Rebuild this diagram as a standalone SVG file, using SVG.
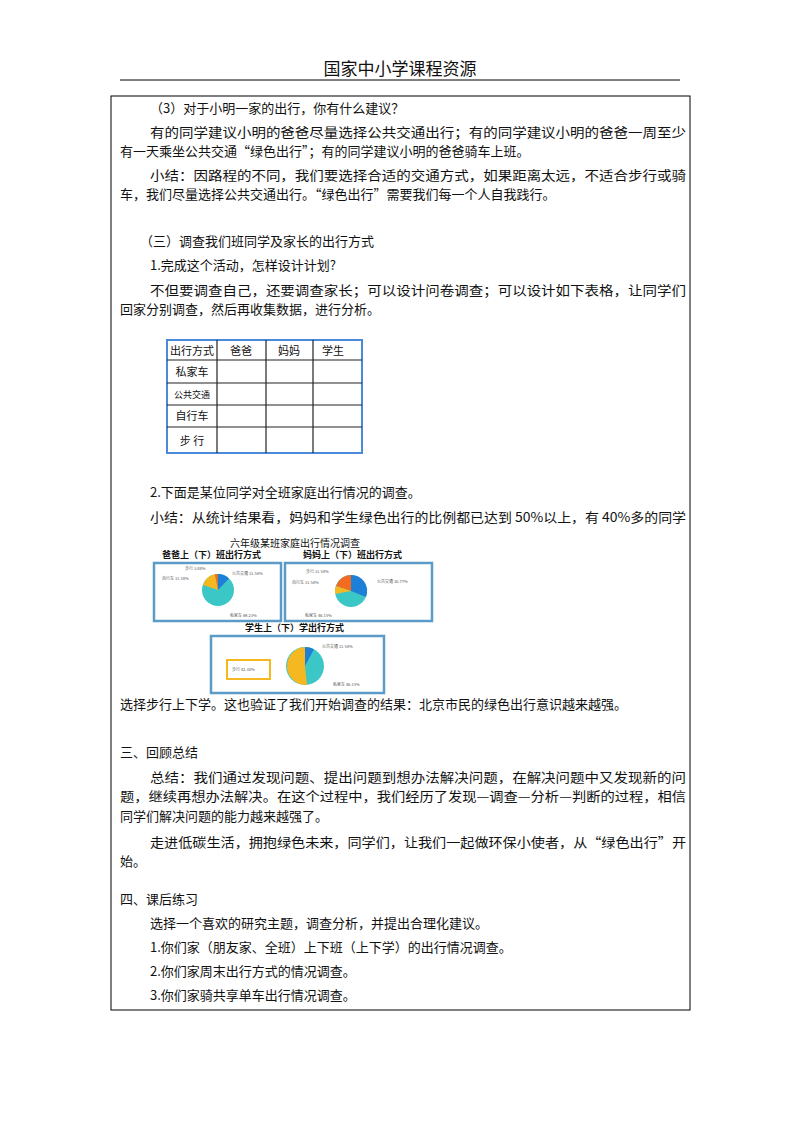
<svg xmlns="http://www.w3.org/2000/svg" width="800" height="1132" viewBox="0 0 800 1132">
<style>
text{font-family:"Noto Sans CJK SC","Liberation Serif",serif;font-size:13px;fill:#111}
.h{font-size:17px}
.s{font-size:9px;font-weight:bold}
.t{font-size:4px;fill:#555}
.tb{font-family:"Noto Sans CJK SC",sans-serif;font-size:11px}
.bx{fill:#fff;stroke:#5a9bc8;stroke-width:2.5}
.g{stroke:#222;stroke-width:1.2;fill:none}
</style>
<rect width="800" height="1132" fill="#fff"/>
<g id="header">
<text class="h" x="400" y="75" text-anchor="middle">国家中小学课程资源</text>
<line x1="120" y1="80" x2="680" y2="80" stroke="#000" stroke-width="1"/>
</g>
<rect id="frame" x="111" y="96" width="579" height="914" fill="none" stroke="#000" stroke-width="1"/>
<g id="body">
<text x="150" y="113">（3）对于小明一家的出行，你有什么建议？</text>
<text x="150" y="137" textLength="536" lengthAdjust="spacingAndGlyphs">有的同学建议小明的爸爸尽量选择公共交通出行；有的同学建议小明的爸爸一周至少</text>
<text x="120" y="156">有一天乘坐公共交通“绿色出行”；有的同学建议小明的爸爸骑车上班。</text>
<text x="150" y="180" textLength="536" lengthAdjust="spacingAndGlyphs">小结：因路程的不同，我们要选择合适的交通方式，如果距离太远，不适合步行或骑</text>
<text x="120" y="199">车，我们尽量选择公共交通出行。“绿色出行”需要我们每一个人自我践行。</text>
<text x="140" y="246">（三）调查我们班同学及家长的出行方式</text>
<text x="150" y="270">1.完成这个活动，怎样设计计划?</text>
<text x="150" y="295" textLength="536" lengthAdjust="spacingAndGlyphs">不但要调查自己，还要调查家长；可以设计问卷调查；可以设计如下表格，让同学们</text>
<text x="120" y="314">回家分别调查，然后再收集数据，进行分析。</text>
<text x="150" y="497">2.下面是某位同学对全班家庭出行情况的调查。</text>
<text x="150" y="522" textLength="536" lengthAdjust="spacingAndGlyphs">小结：从统计结果看，妈妈和学生绿色出行的比例都已达到 50%以上，有 40%多的同学</text>
<text x="120" y="709">选择步行上下学。这也验证了我们开始调查的结果：北京市民的绿色出行意识越来越强。</text>
<text x="120" y="757">三、回顾总结</text>
<text x="150" y="782" textLength="536" lengthAdjust="spacingAndGlyphs">总结：我们通过发现问题、提出问题到想办法解决问题，在解决问题中又发现新的问</text>
<text x="120" y="801" textLength="566" lengthAdjust="spacingAndGlyphs">题，继续再想办法解决。在这个过程中，我们经历了发现—调查—分析—判断的过程，相信</text>
<text x="120" y="821">同学们解决问题的能力越来越强了。</text>
<text x="150" y="847" textLength="536" lengthAdjust="spacingAndGlyphs">走进低碳生活，拥抱绿色未来，同学们，让我们一起做环保小使者，从“绿色出行”开</text>
<text x="120" y="866">始。</text>
<text x="120" y="904">四、课后练习</text>
<text x="150" y="928">选择一个喜欢的研究主题，调查分析，并提出合理化建议。</text>
<text x="150" y="952">1.你们家（朋友家、全班）上下班（上下学）的出行情况调查。</text>
<text x="150" y="976">2.你们家周末出行方式的情况调查。</text>
<text x="150" y="1000">3.你们家骑共享单车出行情况调查。</text>
</g>
<g id="table">
<rect x="167" y="340" width="195" height="113" fill="#fff" stroke="#4a8ad8" stroke-width="2"/>
<g class="g">
<line x1="217" y1="340" x2="217" y2="453"/><line x1="266" y1="340" x2="266" y2="453"/><line x1="313" y1="340" x2="313" y2="453"/>
<line x1="167" y1="360" x2="362" y2="360"/><line x1="167" y1="383" x2="362" y2="383"/><line x1="167" y1="405" x2="362" y2="405"/><line x1="167" y1="427" x2="362" y2="427"/>
</g>
<text class="tb" x="192" y="355" text-anchor="middle">出行方式</text>
<text class="tb" x="241" y="355" text-anchor="middle">爸爸</text>
<text class="tb" x="289" y="355" text-anchor="middle">妈妈</text>
<text class="tb" x="333" y="355" text-anchor="middle">学生</text>
<text class="tb" x="192" y="376" text-anchor="middle">私家车</text>
<text class="tb" x="192" y="398" text-anchor="middle" style="font-size:9px">公共交通</text>
<text class="tb" x="192" y="420" text-anchor="middle">自行车</text>
<text class="tb" x="192" y="445" text-anchor="middle">步 行</text>
</g>
<g id="charts">
<text x="295" y="547" text-anchor="middle" style="font-size:10px">六年级某班家庭出行情况调查</text>
<text class="s" x="162" y="558">爸爸上（下）班出行方式</text>
<text class="s" x="303" y="558">妈妈上（下）班出行方式</text>
<rect class="bx" x="154" y="563" width="127" height="58"/>
<rect class="bx" x="285" y="563" width="147" height="58"/>
<text class="s" x="245" y="631">学生上（下）学出行方式</text>
<rect class="bx" x="211" y="636" width="173" height="57"/>
<g id="pie1" transform="translate(218,590)">
<circle r="16" fill="#3cc7c7"/>
<path d="M0,0 L0,-16 A16,16 0 0 1 11,-11.6 Z" fill="#1e7fd6"/>
<path d="M0,0 L-15,-5 A16,16 0 0 1 -3,-15.7 Z" fill="#f5b820"/>
<path d="M0,0 L-3,-15.7 A16,16 0 0 1 0,-16 Z" fill="#f26b21"/>
</g>
<text class="t" x="185" y="570">步行 3.88%</text><text class="t" x="162" y="580">自行车 11.58%</text><text class="t" x="232" y="575">公共交通 11.54%</text><text class="t" x="230" y="617">私家车 69.23%</text>
<g id="pie2" transform="translate(351,591)">
<circle r="16" fill="#3cc7c7"/>
<path d="M0,0 L0,-16 A16,16 0 0 1 15,6 Z" fill="#1e7fd6"/>
<path d="M0,0 L-15,-5 A16,16 0 0 1 0,-16 Z" fill="#f26b21"/>
<path d="M0,0 L-16,3 A16,16 0 0 1 -15,-5 Z" fill="#f5b820"/>
</g>
<text class="t" x="306" y="573">步行 11.54%</text><text class="t" x="292" y="584">自行车 11.54%</text><text class="t" x="377" y="583">公共交通 30.77%</text><text class="t" x="305" y="617">私家车 46.15%</text>
<g id="pie3" transform="translate(305,666)">
<circle r="19" fill="#3cc7c7"/>
<path d="M0,0 L0,-19 A19,19 0 0 1 9,-16.7 Z" fill="#1e7fd6"/>
<path d="M0,0 L2,19 A19,19 0 0 1 0,-19 Z" fill="#f5b820"/>
</g>
<rect x="227" y="660" width="43" height="19" fill="none" stroke="#f5b820" stroke-width="2"/>
<text class="t" x="232" y="671">步行 42.30%</text>
<text class="t" x="322" y="648">公共交通 11.54%</text><text class="t" x="333" y="686">私家车 46.15%</text>
</g>
</svg>
